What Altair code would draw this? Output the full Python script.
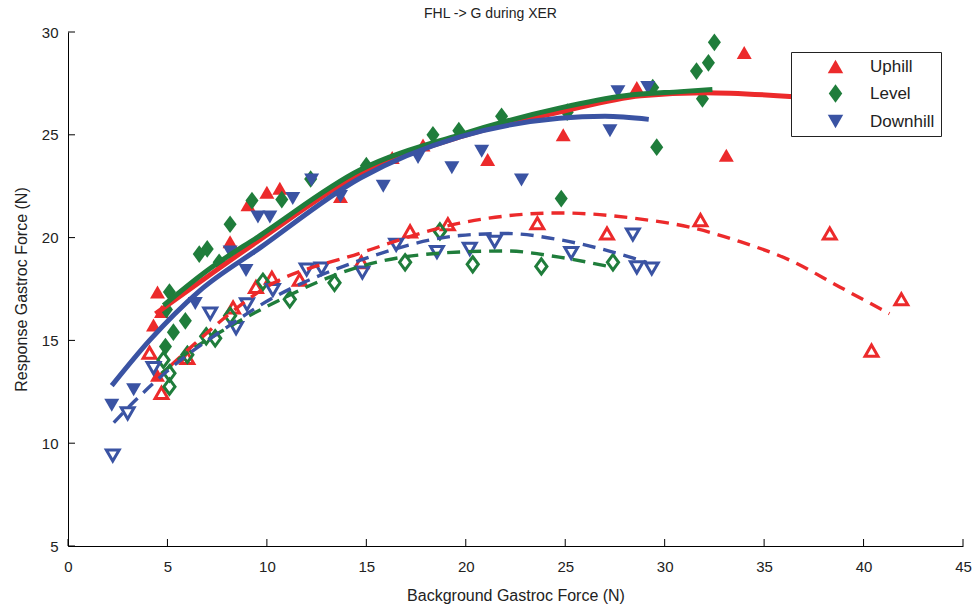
import altair as alt
import pandas as pd

# ---------------- data ----------------
conds = ["Uphill", "Level", "Downhill"]
colors = ["#EC2A2B", "#1F7D3B", "#3A53A3"]
DIAMOND = "M0,-1.18L0.87,0L0,1.18L-0.87,0Z"
shapes = ["triangle-up", DIAMOND, "triangle-down"]

x_ticks = [0, 5, 10, 15, 20, 25, 30, 35, 40, 45]
y_ticks = [5, 10, 15, 20, 25, 30]

# filled markers
up_f_x = [4.5, 4.7, 4.3, 4.5, 8.15, 9.05, 10.0, 10.65, 13.7, 16.3, 17.85, 21.1, 24.9, 28.6, 33.1, 34.0]
up_f_y = [17.35, 16.4, 15.75, 13.3, 19.8, 21.6, 22.2, 22.4, 22.0, 23.9, 24.5, 23.8, 25.0, 27.3, 24.0, 29.0]
lev_f_x = [5.1, 4.95, 5.3, 5.9, 4.9, 6.6, 7.0, 7.6, 8.15, 9.25, 10.75, 12.2, 15.0, 18.35, 19.65, 21.8,
           24.8, 25.1, 29.4, 29.6, 31.6, 31.9, 32.2, 32.5]
lev_f_y = [17.35, 16.5, 15.4, 15.95, 14.7, 19.2, 19.45, 18.8, 20.65, 21.8, 21.85, 22.85, 23.5, 25.0, 25.2, 25.9,
           21.9, 26.1, 27.3, 24.4, 28.1, 26.75, 28.5, 29.5]
down_f_x = [2.2, 3.3, 6.4, 8.15, 8.95, 9.55, 10.15, 11.3, 12.25, 13.7, 15.85, 17.6, 19.3, 20.8, 22.8, 27.25, 27.65, 29.15]
down_f_y = [11.85, 12.6, 16.8, 19.3, 18.4, 21.0, 21.0, 21.9, 22.8, 22.0, 22.5, 23.9, 23.4, 24.2, 22.8, 25.2, 27.1, 27.3]

# hollow markers
up_h_x = [4.1, 4.7, 6.0, 8.3, 9.45, 10.25, 11.65, 14.75, 17.2, 19.1, 23.6, 27.1, 31.8, 38.3, 40.4, 41.9]
up_h_y = [14.4, 12.45, 14.15, 16.6, 17.6, 18.05, 17.95, 18.8, 20.3, 20.65, 20.7, 20.2, 20.85, 20.2, 14.5, 17.0]
lev_h_x = [4.8, 5.1, 5.1, 6.0, 6.95, 7.4, 8.15, 9.8, 11.15, 13.4, 16.95, 18.7, 20.35, 23.8, 27.4]
lev_h_y = [14.05, 13.4, 12.75, 14.3, 15.2, 15.1, 16.2, 17.85, 17.0, 17.8, 18.8, 20.3, 18.7, 18.6, 18.8]
down_h_x = [2.25, 3.0, 4.3, 7.15, 8.45, 9.0, 10.3, 12.0, 12.75, 14.8, 16.5, 18.55, 20.2, 21.45, 25.3, 28.4, 28.6, 29.35]
down_h_y = [9.4, 11.45, 13.65, 16.3, 15.6, 16.75, 17.45, 18.45, 18.5, 18.3, 19.65, 19.3, 19.45, 19.8, 19.25, 20.15, 18.55, 18.5]

# fitted curves (solid = filled markers, dashed = hollow markers)
up_s_x = [4.4, 7.0, 9.65, 14.7, 19.7, 24.7, 28.8, 32.0, 36.5]
up_s_y = [16.3, 18.1, 19.9, 23.1, 24.9, 26.1, 26.9, 27.05, 26.85]
lev_s_x = [4.8, 7.0, 9.65, 14.7, 19.7, 24.7, 28.0, 30.8, 32.4]
lev_s_y = [16.7, 18.4, 20.1, 23.3, 25.0, 26.3, 26.9, 27.1, 27.2]
down_s_x = [2.2, 4.1, 6.6, 9.65, 14.7, 19.7, 24.7, 27.0, 29.2]
down_s_y = [12.8, 15.0, 17.4, 19.5, 22.9, 24.9, 25.8, 25.9, 25.75]

up_d_x = [4.4, 6.1, 8.0, 9.65, 14.7, 19.7, 24.7, 28.8, 31.3, 33.8, 36.3, 38.8, 41.3]
up_d_y = [13.1, 14.6, 16.2, 17.4, 19.25, 20.7, 21.2, 20.9, 20.5, 19.8, 18.9, 17.6, 16.3]
lev_d_x = [4.7, 6.0, 8.0, 9.9, 14.7, 19.7, 22.0, 24.7, 27.15]
lev_d_y = [13.4, 14.4, 15.6, 16.6, 18.6, 19.3, 19.35, 19.05, 18.6]
down_d_x = [2.3, 3.3, 5.1, 8.0, 9.65, 14.7, 19.7, 22.0, 24.7, 27.0, 29.1]
down_d_y = [11.0, 12.0, 13.6, 15.65, 16.7, 18.9, 20.1, 20.2, 19.9, 19.4, 18.8]


def frame(xs_list, ys_list):
    rows = []
    for c, xs, ys in zip(conds, xs_list, ys_list):
        for i, (a, b) in enumerate(zip(xs, ys)):
            rows.append({"x": a, "y": b, "cond": c, "i": i})
    return pd.DataFrame(rows)


df_f = frame([up_f_x, lev_f_x, down_f_x], [up_f_y, lev_f_y, down_f_y])
df_h = frame([up_h_x, lev_h_x, down_h_x], [up_h_y, lev_h_y, down_h_y])
df_s = frame([up_s_x, lev_s_x, down_s_x], [up_s_y, lev_s_y, down_s_y])
df_d = frame([up_d_x, lev_d_x, down_d_x], [up_d_y, lev_d_y, down_d_y])

W, H = 895, 514
FONT = "Liberation Sans"

xs = alt.Scale(domain=[0, 45], nice=False, zero=False)
ys = alt.Scale(domain=[5, 30], nice=False, zero=False)
cs = alt.Scale(domain=conds, range=colors)
ss = alt.Scale(domain=conds, range=shapes)

X = alt.X("x:Q", scale=xs, axis=alt.Axis(values=x_ticks, title="Background Gastroc Force (N)",
                                         ticks=False, labelPadding=13, titlePadding=13,
                                         labelFlush=False))
Y = alt.Y("y:Q", scale=ys, axis=alt.Axis(values=y_ticks, title="Response Gastroc Force (N)",
                                         ticks=False, labelPadding=10, titlePadding=12,
                                         labelFlush=False))

legend = alt.Legend(title=None, orient="none", legendX=723, legendY=20, padding=6,
                    strokeColor="#222222", fillColor="white", symbolSize=240,
                    symbolOffset=30, labelOffset=26, rowPadding=9,
                    labelFontSize=17, labelFont=FONT, labelColor="#222222",
                    symbolStrokeWidth=0)

filled = alt.Chart(df_f).mark_point(filled=True, opacity=1, size=225).encode(
    x=X, y=Y,
    color=alt.Color("cond:N", scale=cs, legend=legend),
    shape=alt.Shape("cond:N", scale=ss, legend=legend),
)

hollow = alt.Chart(df_h).mark_point(filled=False, opacity=1, size=165, strokeWidth=3).encode(
    x=X, y=Y,
    color=alt.Color("cond:N", scale=cs, legend=None),
    shape=alt.Shape("cond:N", scale=ss, legend=None),
)

dashed = alt.Chart(df_d).mark_line(strokeWidth=3.4, strokeDash=[13, 8], interpolate="monotone").encode(
    x=X, y=Y, color=alt.Color("cond:N", scale=cs, legend=None), order="i:Q",
)

solid = alt.Chart(df_s).mark_line(strokeWidth=5, interpolate="monotone").encode(
    x=X, y=Y, color=alt.Color("cond:N", scale=cs, legend=None), order="i:Q",
)

xt = alt.Chart(pd.DataFrame({"t": x_ticks})).mark_rule(color="black", strokeWidth=1).encode(
    x=alt.X("t:Q", scale=xs), y=alt.value(H), y2=alt.value(H - 7))
yt = alt.Chart(pd.DataFrame({"t": y_ticks})).mark_rule(color="black", strokeWidth=1).encode(
    y=alt.Y("t:Q", scale=ys), x=alt.value(0), x2=alt.value(7))

chart = alt.layer(filled, hollow, dashed, solid, xt, yt).properties(
    width=W, height=H,
    title=alt.TitleParams("FHL -> G during XER", fontSize=14, fontWeight="normal", font=FONT,
                          color="#222222", offset=4, dx=-25),
    padding={"left": 68, "top": 32, "right": 16, "bottom": 63},
    autosize=alt.AutoSizeParams(type="none"),
).configure_view(strokeWidth=0).configure_axis(
    grid=False, domainColor="black", domainWidth=1, labelFont=FONT, titleFont=FONT,
    labelFontSize=15, titleFontSize=16, labelColor="#222222", titleColor="#222222",
    titleFontWeight="normal",
)

chart.save("out.html", embed_options={"renderer": "svg", "actions": False})
